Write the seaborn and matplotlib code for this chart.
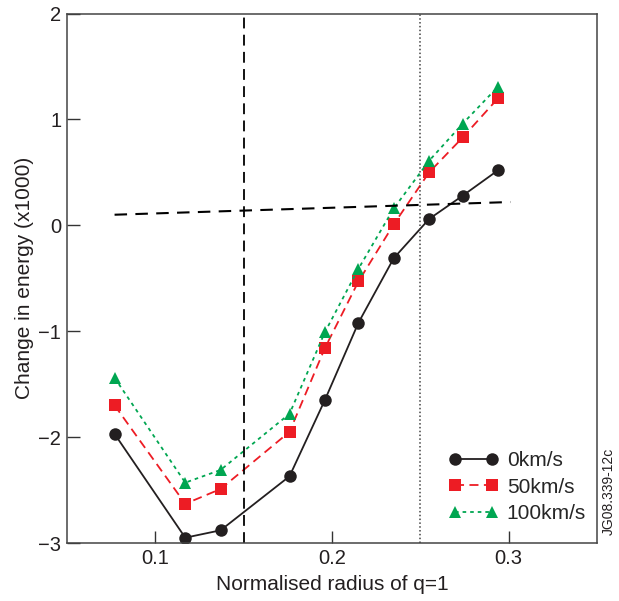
import numpy as np
import matplotlib
matplotlib.use("Agg")
import matplotlib.pyplot as plt
import seaborn as sns

# Normalised radius of q=1
radius = [0.077, 0.117, 0.137, 0.176, 0.196, 0.215, 0.235, 0.255, 0.274, 0.294]

# Change in energy (x1000) for each rotation speed
e_0 = [-1.97, -2.95, -2.88, -2.37, -1.65, -0.92, -0.31, 0.06, 0.28, 0.52]
e_50 = [-1.70, -2.63, -2.49, -1.95, -1.16, -0.53, 0.01, 0.50, 0.83, 1.20]
e_100 = [-1.44, -2.43, -2.31, -1.78, -1.01, -0.41, 0.16, 0.61, 0.96, 1.31]

labels = ["0km/s", "50km/s", "100km/s"]

# reference lines
q_edge = 0.15
q_outer = 0.25
ref_x = [0.077, 0.301]
ref_y = [0.10, 0.22]

sns.set_style("ticks")
plt.rcParams["font.family"] = ["Liberation Sans", "DejaVu Sans"]

fig = plt.figure(figsize=(6.19, 6.01), dpi=100)
ax = fig.add_axes([0.108, 0.0965, 0.8565, 0.881])

black = "#231f20"
red = "#ed1c24"
green = "#00a651"

sns.lineplot(x=radius, y=e_0, ax=ax, color=black, marker="o", markersize=9,
             markeredgewidth=0, linewidth=1.3, linestyle="-", label=labels[0])
sns.lineplot(x=radius, y=e_50, ax=ax, color=red, marker="s", markersize=8.5,
             markeredgewidth=0, linewidth=1.3, dashes=(5, 3), label=labels[1])
sns.lineplot(x=radius, y=e_100, ax=ax, color=green, marker="^", markersize=9,
             markeredgewidth=0, linewidth=1.3, dashes=(2, 2.2), label=labels[2])

ax.axvline(q_edge, color="black", linewidth=1.3, dashes=(6, 3.5))
ax.axvline(q_outer, color="#444444", linewidth=1.1, linestyle=(0, (1, 1.5)))
ax.plot(ref_x, ref_y, color="black", linewidth=1.5, dashes=(6, 4))

ax.set_xlim(0.05, 0.35)
ax.set_ylim(-3, 2)
ax.set_xticks([0.1, 0.2, 0.3])
ax.set_xticklabels(["0.1", "0.2", "0.3"])
ax.set_yticks([-3, -2, -1, 0, 1, 2])
ax.set_yticklabels(["\u22123", "\u22122", "\u22121", "0", "1", "2"])
ax.tick_params(direction="in", length=9, width=1, labelsize=14.5, colors="#333333",
               labelcolor="#231f20", pad=4)
for s in ax.spines.values():
    s.set_color("#444444")
    s.set_linewidth(1.1)

ax.set_xlabel("Normalised radius of q=1", fontsize=15, color="#231f20", labelpad=5)
ax.set_ylabel("Change in energy (x1000)", fontsize=15, color="#231f20", labelpad=3)

ax.legend(loc="lower right", frameon=False, fontsize=15, numpoints=2,
          handlelength=2.4, handletextpad=0.4, labelspacing=0.35,
          borderaxespad=0, bbox_to_anchor=(0.995, 0.022))

fig.text(0.983, 0.11, "JG08.339-12c", rotation=90, fontsize=10, color="#231f20",
         ha="center", va="bottom")

fig.savefig("out.png", dpi=100)
